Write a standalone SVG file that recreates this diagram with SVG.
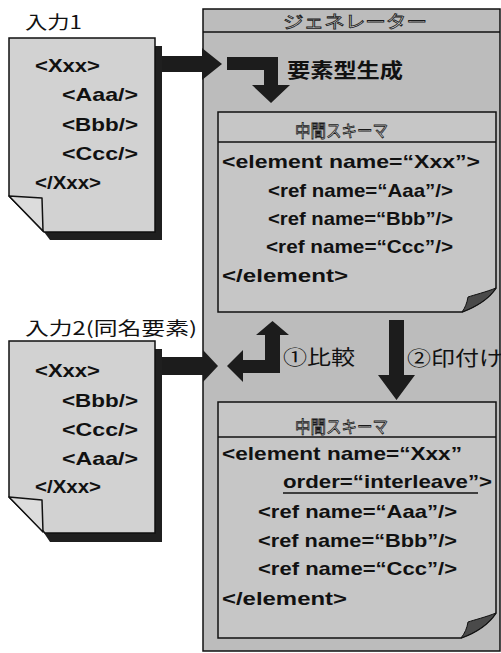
<svg xmlns="http://www.w3.org/2000/svg" width="501" height="653" viewBox="0 0 501 653">
<style>
.lbl{font-family:"Noto Sans CJK JP","Liberation Sans",sans-serif;fill:#111}
.code{font-family:"Liberation Sans","Noto Sans CJK JP",sans-serif;font-weight:bold;font-size:19px;fill:#111}
.hollow{font-family:"Noto Sans CJK JP",sans-serif;font-size:17px;fill:#d8d8d8;stroke:#1a1a1a;stroke-width:0.8}
.doc{fill:#d2d2d2;stroke:#111;stroke-width:1.5}
.fold{fill:#dcdcdc;stroke:#111;stroke-width:1.5;stroke-linejoin:round}
.shadow{fill:#1f1f1f}
.box{fill:#c6c6c6;stroke:#111;stroke-width:1.5}
.flap{fill:#4a4a4a;stroke:#111;stroke-width:1}
.arrow{fill:#1c1c1c}
</style>
<g id="generator">
<rect x="203" y="9" width="297" height="642" fill="#bcbcbc" stroke="#111" stroke-width="1.5"/>
<line x1="203" y1="32" x2="500" y2="32" stroke="#111" stroke-width="1.5"/>
<text class="hollow" x="283" y="28" textLength="144" lengthAdjust="spacingAndGlyphs">ジェネレーター</text>
</g>
<g id="input1">
<text class="lbl" x="25" y="29" font-size="18" textLength="57" lengthAdjust="spacingAndGlyphs">入力1</text>
<path class="shadow" d="M155,46 H162 V240 H50 L44,232 H155 Z"/>
<path class="doc" d="M9,38 H155 V232 H44 L9,196 Z"/>
<path class="fold" d="M9,196 L42,198 L43,231 Z"/>
<text class="code" x="35" y="72" textLength="65" lengthAdjust="spacingAndGlyphs">&lt;Xxx&gt;</text>
<text class="code" x="62" y="101" textLength="76" lengthAdjust="spacingAndGlyphs">&lt;Aaa/&gt;</text>
<text class="code" x="62" y="131" textLength="76" lengthAdjust="spacingAndGlyphs">&lt;Bbb/&gt;</text>
<text class="code" x="62" y="160" textLength="76" lengthAdjust="spacingAndGlyphs">&lt;Ccc/&gt;</text>
<text class="code" x="35" y="189" textLength="66" lengthAdjust="spacingAndGlyphs">&lt;/Xxx&gt;</text>
</g>
<g id="input2">
<text class="lbl" x="25" y="335" font-size="18" textLength="172" lengthAdjust="spacingAndGlyphs">入力2(同名要素)</text>
<path class="shadow" d="M155,349 H162 V542 H50 L44,533 H155 Z"/>
<path class="doc" d="M9,341 H155 V533 H45 L9,497 Z"/>
<path class="fold" d="M9,497 L42,500 L43,532 Z"/>
<text class="code" x="35" y="377" textLength="65" lengthAdjust="spacingAndGlyphs">&lt;Xxx&gt;</text>
<text class="code" x="62" y="407" textLength="76" lengthAdjust="spacingAndGlyphs">&lt;Bbb/&gt;</text>
<text class="code" x="62" y="436" textLength="76" lengthAdjust="spacingAndGlyphs">&lt;Ccc/&gt;</text>
<text class="code" x="62" y="465" textLength="76" lengthAdjust="spacingAndGlyphs">&lt;Aaa/&gt;</text>
<text class="code" x="35" y="493" textLength="66" lengthAdjust="spacingAndGlyphs">&lt;/Xxx&gt;</text>
</g>
<g id="schema1">
<path class="box" d="M218,112 H496 V288 C488,300 475,307 462,312 H218 Z"/>
<path class="flap" d="M496,288 C486,292 474,295 468,297 C467,303 465,308 462,312 C475,307 488,300 496,288 Z"/>
<line x1="218" y1="142" x2="496" y2="142" stroke="#111" stroke-width="1.5"/>
<text class="hollow" x="295" y="137" textLength="93" lengthAdjust="spacingAndGlyphs">中間スキーマ</text>
<text class="code" x="222" y="168" textLength="258" lengthAdjust="spacingAndGlyphs">&lt;element name=“Xxx”&gt;</text>
<text class="code" x="268" y="197" textLength="185" lengthAdjust="spacingAndGlyphs">&lt;ref name=“Aaa”/&gt;</text>
<text class="code" x="268" y="225" textLength="185" lengthAdjust="spacingAndGlyphs">&lt;ref name=“Bbb”/&gt;</text>
<text class="code" x="266" y="253" textLength="187" lengthAdjust="spacingAndGlyphs">&lt;ref name=“Ccc”/&gt;</text>
<text class="code" x="222" y="282" textLength="126" lengthAdjust="spacingAndGlyphs">&lt;/element&gt;</text>
</g>
<g id="schema2">
<path class="box" d="M218,402 H496 V613 C488,625 475,633 461,638 H218 Z"/>
<path class="flap" d="M496,613 C486,617 474,620 468,622 C467,628 465,633 461,638 C475,633 488,625 496,613 Z"/>
<line x1="218" y1="437" x2="496" y2="437" stroke="#111" stroke-width="1.5"/>
<text class="hollow" x="295" y="433" textLength="93" lengthAdjust="spacingAndGlyphs">中間スキーマ</text>
<text class="code" x="222" y="460" textLength="240" lengthAdjust="spacingAndGlyphs">&lt;element name=“Xxx”</text>
<text class="code" x="283" y="488" textLength="209" lengthAdjust="spacingAndGlyphs">order=“interleave”&gt;</text>
<line x1="283" y1="493" x2="478" y2="493" stroke="#111" stroke-width="1.5"/>
<text class="code" x="258" y="518" textLength="199" lengthAdjust="spacingAndGlyphs">&lt;ref name=“Aaa”/&gt;</text>
<text class="code" x="258" y="547" textLength="199" lengthAdjust="spacingAndGlyphs">&lt;ref name=“Bbb”/&gt;</text>
<text class="code" x="258" y="575" textLength="199" lengthAdjust="spacingAndGlyphs">&lt;ref name=“Ccc”/&gt;</text>
<text class="code" x="222" y="605" textLength="125" lengthAdjust="spacingAndGlyphs">&lt;/element&gt;</text>
</g>
<g id="connectors">
<path class="arrow" d="M162,56 H202 V48 L222,64 L202,80 V72 H162 Z"/>
<path class="arrow" d="M227,57 H278 V85 H290 L271,103 L252,85 H264 V70 H227 Z"/>
<text class="lbl" x="287" y="78" font-size="20" font-weight="bold" textLength="116" lengthAdjust="spacingAndGlyphs">要素型生成</text>
<path class="arrow" d="M162,357 H203 V350 L218,366 L203,382 V375 H162 Z"/>
<path class="arrow" d="M280,373 H243 V382 L227,366 L243,350 V360 H265 V335 H256 L272.5,321 L289,335 H280 Z"/>
<text class="lbl" x="283" y="365" font-size="20" textLength="72" lengthAdjust="spacingAndGlyphs">①比較</text>
<path class="arrow" d="M389,320 H404 V375 H415 L396.5,400 L378,375 H389 Z"/>
<text class="lbl" x="407" y="366" font-size="20" textLength="96" lengthAdjust="spacingAndGlyphs">②印付け</text>
</g>
</svg>
